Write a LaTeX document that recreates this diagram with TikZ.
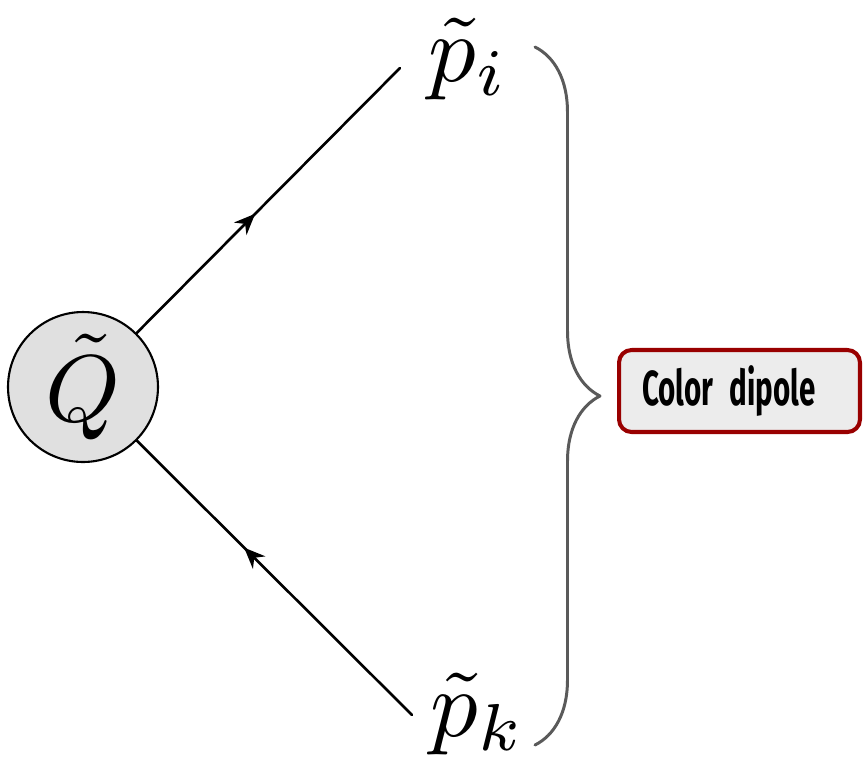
\documentclass[tikz,border=0pt]{standalone}
\usepackage{fontspec}
\usepackage{graphicx}
\newfontfamily\tagfont[FakeStretch=0.6]{Fira Sans}
\usetikzlibrary{arrows.meta,decorations.markings,decorations.pathreplacing}
\definecolor{dipolered}{HTML}{990000}
\definecolor{bracegray}{HTML}{5A5A5A}
\definecolor{blobgray}{HTML}{E0E0E0}
\definecolor{tagfill}{HTML}{ECECEC}
\newcommand{\bigsym}[1]{\scalebox{5.4}{$#1$}}

\begin{document}
\begin{tikzpicture}[x=0.02cm,y=-0.02cm,line cap=round,line join=round,
  every node/.style={inner sep=0pt},
  leg/.style={line width=1.5pt},
  flow/.style={postaction={decorate},decoration={markings,
    mark=at position #1 with {\arrow{Stealth[length=12pt,width=10pt]}}}}]
  \useasboundingbox (0,0) rectangle (865,762);
  % blob and momenta
  \node[circle,draw,fill=blobgray,line width=1.2pt,minimum size=3cm] (Q) at (83,387) {\bigsym{\tilde Q}};
  \node[anchor=base west] (pi) at (428,81) {\bigsym{\tilde p_i}};
  \node[anchor=base west] (pk) at (430,736) {\bigsym{\tilde p_k}};
  \coordinate (iend) at (400,68);
  \coordinate (kend) at (412,715);
  \draw[leg,flow=0.45] (Q) -- (iend);
  \draw[leg,flow=0.61] (kend) -- (Q);
  % brace and tag
  \draw[bracegray,line width=1.7pt,decorate,decoration={brace,amplitude=1.3cm}] (535,47) -- (535,745);
  \node[draw=dipolered,fill=tagfill,line width=2.3pt,rounded corners=0.25cm,
    text width=3.9cm,inner xsep=0.46cm,minimum height=1.64cm,align=left,
    font=\tagfont\bfseries\fontsize{28}{32}\selectfont] (dipole) at (739.5,391) {Color dipole};
\end{tikzpicture}
\end{document}
